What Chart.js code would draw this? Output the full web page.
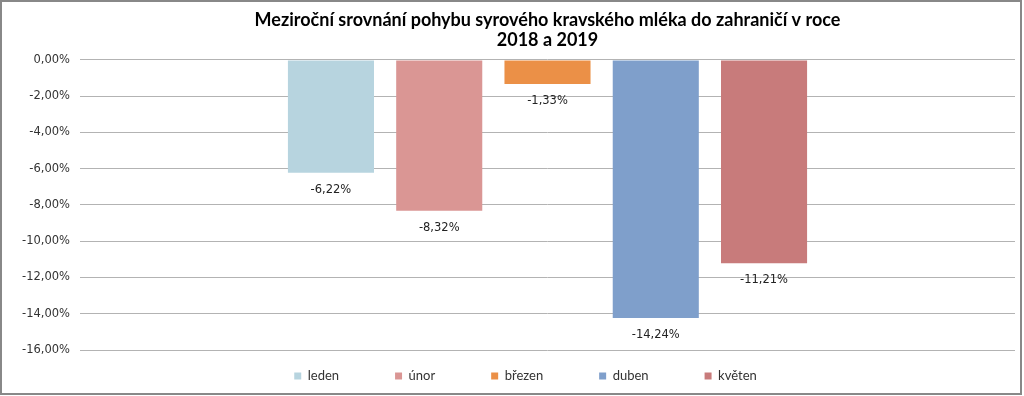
<!DOCTYPE html>
<html><head><meta charset="utf-8">
<script src="https://cdn.jsdelivr.net/npm/chart.js@4"></script>
<style>
html,body{margin:0;padding:0;background:#fff;}
#wrap{position:absolute;left:0;top:0;width:1022px;height:395px;border:2px solid #888;box-sizing:border-box;background:#fff;}
canvas{display:block;}
</style></head><body>
<div id="wrap"><canvas id="c" width="1018" height="391"></canvas></div>
<script>
const titleLines = ['Meziroční srovnání pohybu syrového kravského mléka do zahraničí v roce', '2018 a 2019'];
const months = ['leden', 'únor', 'březen', 'duben', 'květen'];
const values = [-6.22, -8.32, -1.33, -14.24, -11.21];
const colors = ['#B7D4DF', '#DA9694', '#EB9047', '#7F9FCB', '#C87B7B'];
const yMin = -16, yMax = 0, yStep = 2;

const fmt = v => v.toFixed(2).replace('.', ',') + '%';

const LEG_PAD = 56;
const legendPatch = {
  id: 'legendPatch',
  afterInit(chart) {
    const lg = chart.legend;
    if (!lg || lg._patched) return;
    lg._patched = true;
    const oFit = lg.fit.bind(lg);
    lg.fit = function () { oFit(); this.height = 43; };
    const oDraw = lg._draw.bind(lg);
    lg._draw = function () {
      const ctx = this.ctx;
      ctx.save();
      ctx.translate(17, -(LEG_PAD - 19.5));
      oDraw();
      ctx.restore();
    };
  }
};

const valueLabels = {
  id: 'valueLabels',
  afterDatasetsDraw(chart) {
    const ctx = chart.ctx;
    ctx.save();
    ctx.font = '11.5px "DejaVu Sans"';
    ctx.fillStyle = '#222';
    ctx.textAlign = 'center';
    ctx.textBaseline = 'middle';
    chart.data.datasets.forEach((ds, i) => {
      const meta = chart.getDatasetMeta(i);
      meta.data.forEach((el, j) => {
        ctx.fillText(fmt(ds.data[j]), el.x, el.y + 17);
      });
    });
    ctx.restore();
  }
};

new Chart(document.getElementById('c'), {
  type: 'bar',
  data: {
    labels: [''],
    datasets: months.map((m, i) => ({
      label: m,
      data: [values[i]],
      backgroundColor: colors[i],
      borderWidth: 0
    }))
  },
  options: {
    responsive: false,
    animation: false,
    categoryPercentage: 0.579,
    barPercentage: 0.795,
    layout: { padding: { left: 0, right: 5, top: 0, bottom: 0 } },
    plugins: {
      tooltip: { enabled: false },
      title: {
        display: true,
        fullSize: false,
        text: titleLines,
        color: '#000',
        font: { family: 'Lato', size: 18, weight: 'bold', lineHeight: 1.111 },
        padding: { top: 8, bottom: 10 }
      },
      legend: {
        position: 'bottom',
        labels: {
          boxWidth: 7,
          boxHeight: 7,
          padding: LEG_PAD,
          color: '#333',
          font: { family: 'Lato', size: 13 }
        }
      }
    },
    scales: {
      x: { display: false },
      y: {
        min: yMin,
        max: yMax,
        afterFit(s) { s.width = 78; },
        border: { display: false },
        grid: { color: '#B3B3B3', drawTicks: false, lineWidth: 1 },
        ticks: {
          stepSize: yStep,
          padding: 10,
          color: '#333',
          font: { family: 'DejaVu Sans', size: 11.5 },
          callback: v => fmt(v)
        }
      }
    }
  },
  plugins: [legendPatch, valueLabels]
});
</script>
</body></html>
